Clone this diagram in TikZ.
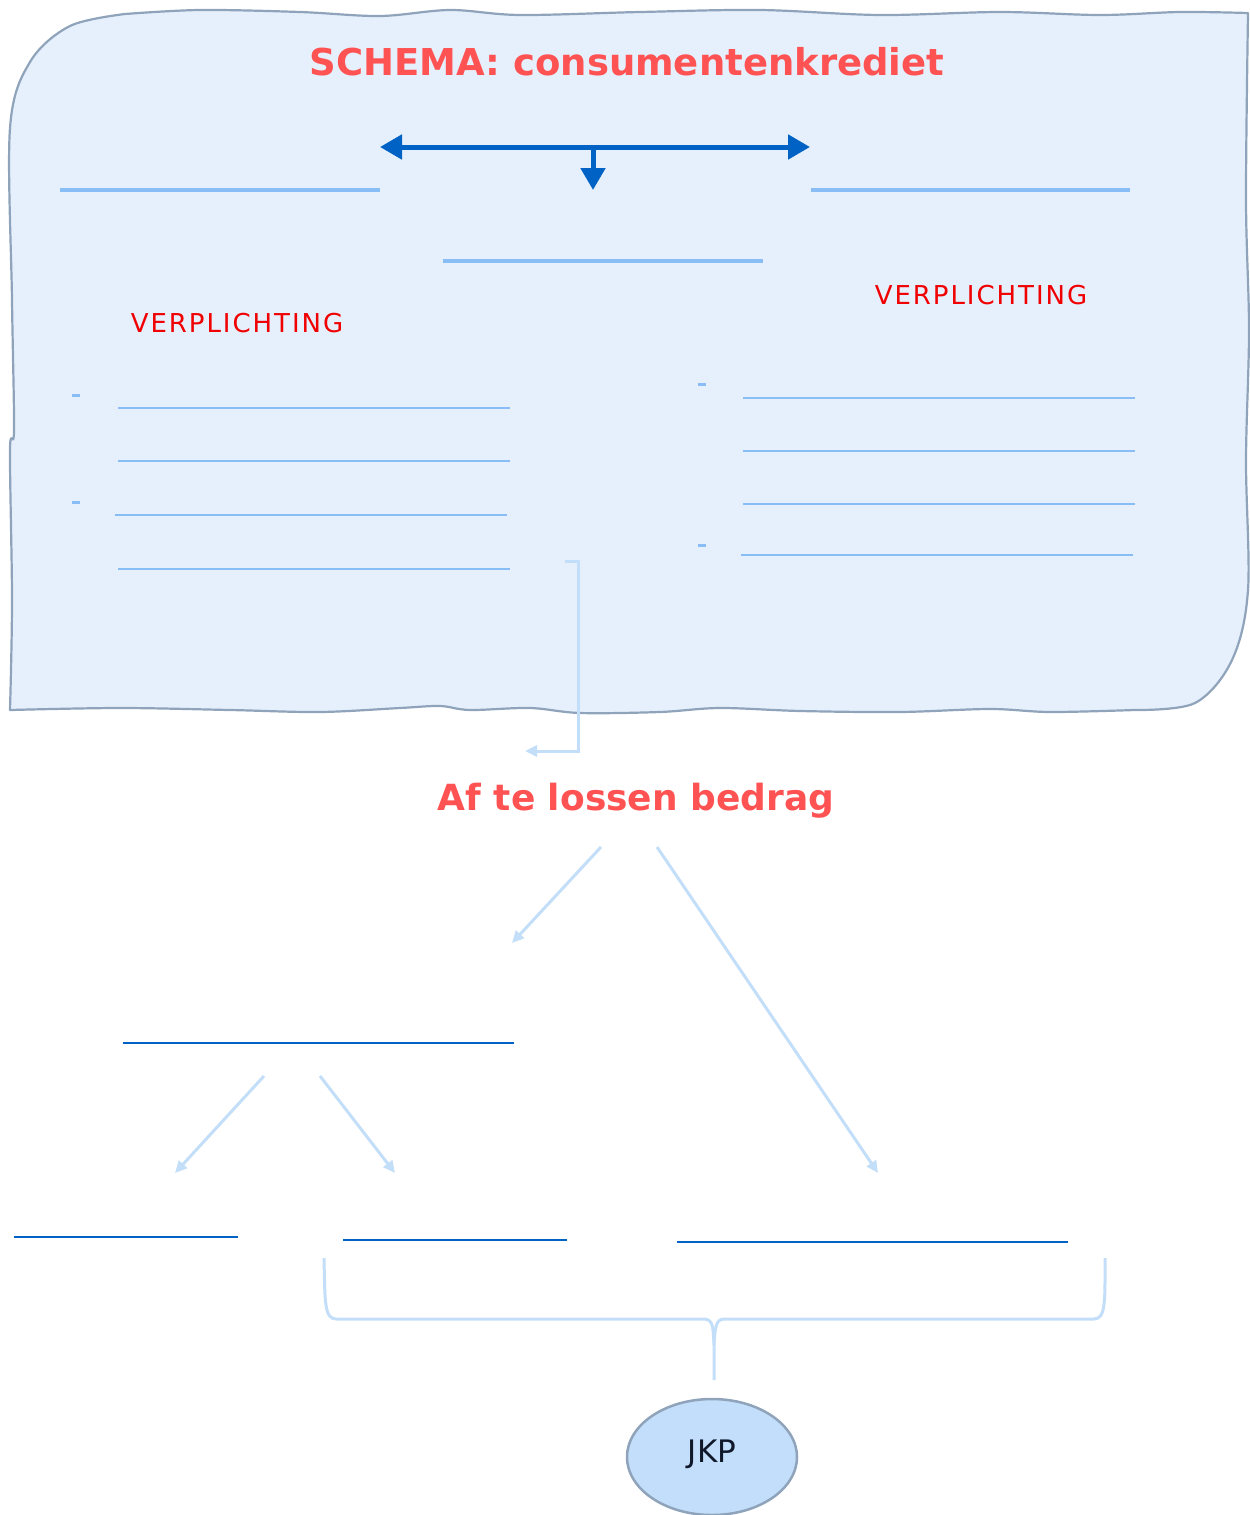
\documentclass[tikz,border=0pt]{standalone}
\usepackage{fontspec}
\setmainfont{DejaVu Sans}
\usetikzlibrary{arrows.meta,shapes.geometric}
\definecolor{boxfill}{HTML}{E6F0FD}
\definecolor{boxline}{HTML}{8FA3BA}
\definecolor{darkblue}{HTML}{0062C4}
\definecolor{midblue}{HTML}{88BEF5}
\definecolor{paleblue}{HTML}{C3DEF8}
\definecolor{titlered}{HTML}{FF5252}
\definecolor{vred}{HTML}{F00000}
\definecolor{ellfill}{HTML}{C2DEFA}
\definecolor{inktext}{HTML}{10182A}
\begin{document}
\begin{tikzpicture}[x=1pt,y=-1pt,
  titlestyle/.style={inner sep=0pt,anchor=base,text=titlered,font=\fontsize{37}{40}\selectfont\bfseries},
  afstyle/.style={inner sep=0pt,anchor=base,text=titlered,font=\fontsize{36}{40}\selectfont\bfseries},
  verpl/.style={inner sep=0pt,anchor=base,text=vred,font=\fontsize{26}{28}\selectfont\addfontfeatures{LetterSpace=7.5}},
  darkarrow/.style={draw=darkblue,line width=5pt,arrows={-Triangle[length=22pt,width=24pt]}},
  thickline/.style={draw=midblue,line width=4pt},
  thinline/.style={draw=midblue,line width=2pt},
  bulletdash/.style={draw=midblue,line width=3pt},
  paleconn/.style={draw=paleblue,line width=3pt,arrows={-Triangle[length=12pt,width=11pt]}},
  darkline/.style={draw=darkblue,line width=2pt},
  brace/.style={draw=paleblue,line width=3pt,line join=round},
  ellstyle/.style={ellipse,draw=boxline,line width=2.5pt,fill=ellfill,minimum width=170pt,minimum height=116pt,inner sep=0pt}
]
\useasboundingbox (0,0) rectangle (1250,1515);

% main hand-drawn panel
\path[fill=boxfill,draw=boxline,line width=2.2pt,line join=round]
  plot[smooth,tension=0.55] coordinates {(125,14) (200,10) (300,12) (380,16) (450,10) (520,15) (640,12) (760,10) (880,15) (1000,12) (1100,15) (1180,12) (1248,13)}
  -- plot[smooth,tension=0.55] coordinates {(1248,13) (1246,200) (1249,330) (1246,460) (1248,590) (1232,660) (1195,703) (1135,710)}
  -- plot[smooth,tension=0.55] coordinates {(1135,710) (1050,712) (990,709) (900,712) (800,711) (720,708) (660,712) (580,713) (530,708) (470,710) (440,706) (400,708) (320,712) (230,710) (120,708) (10,710)}
  -- plot[smooth,tension=0.55] coordinates {(10,710) (12,600) (10,450) (14,430) (12,300) (10,128) (30,62) (70,26) (125,14)}
  -- cycle;

% title
\node[titlestyle] (title) at (627,75) {SCHEMA: consumentenkrediet};

% dark blue arrows
\coordinate (hm) at (593,147);
\coordinate (hl) at (380,147);
\coordinate (hr) at (810,147);
\coordinate (hd) at (593,190);
\draw[darkarrow] (hm) -- (hl);
\draw[darkarrow] (hm) -- (hr);
\draw[darkarrow] (hm) -- (hd);

% thick placeholder lines
\draw[thickline] (60,190) -- (380,190);
\draw[thickline] (811,190) -- (1130,190);
\draw[thickline] (443,261) -- (763,261);

% labels
\node[verpl] (v1) at (237,332) {VERPLICHTING};
\node[verpl] (v2) at (981,304) {VERPLICHTING};

% left column
\draw[bulletdash] (72,395) -- (80,395);
\draw[thinline] (118,408) -- (510,408);
\draw[thinline] (118,461) -- (510,461);
\draw[bulletdash] (72,502) -- (80,502);
\draw[thinline] (115,515) -- (507,515);
\draw[thinline] (118,569) -- (510,569);

% right column
\draw[bulletdash] (698,384) -- (706,384);
\draw[thinline] (743,398) -- (1135,398);
\draw[thinline] (743,451) -- (1135,451);
\draw[thinline] (743,504) -- (1135,504);
\draw[bulletdash] (698,545) -- (706,545);
\draw[thinline] (741,555) -- (1133,555);

% connector from panel to amount
\coordinate (cs) at (565,561);
\coordinate (ce) at (525,751);
\draw[paleconn] (cs) -- (578,561) -- (578,751) -- (ce);

% amount
\node[afstyle] (af) at (636,810) {Af te lossen bedrag};

\coordinate (a1s) at (601,847);
\coordinate (a1e) at (512,943);
\coordinate (a2s) at (657,847);
\coordinate (a2e) at (878,1173);
\draw[paleconn] (a1s) -- (a1e);
\draw[paleconn] (a2s) -- (a2e);

\draw[darkline] (123,1043) -- (514,1043);

\coordinate (b1s) at (264,1076);
\coordinate (b1e) at (175,1173);
\coordinate (b2s) at (320,1076);
\coordinate (b2e) at (395,1173);
\draw[paleconn] (b1s) -- (b1e);
\draw[paleconn] (b2s) -- (b2e);

\draw[darkline] (14,1237) -- (238,1237);
\draw[darkline] (343,1240) -- (567,1240);
\draw[darkline] (677,1242) -- (1068,1242);

% brace
\coordinate (brl) at (324,1258);
\coordinate (brr) at (1105,1258);
\coordinate (brt) at (714,1380);
\draw[brace] (brl) .. controls (325,1300) and (324,1319) .. (336,1319) -- (704,1319)
  .. controls (714,1319) and (713,1330) .. (714,1345) -- (brt);
\draw[brace] (brr) .. controls (1105,1300) and (1106,1319) .. (1094,1319) -- (724,1319)
  .. controls (715,1319) and (715,1330) .. (714,1345);

% JKP
\node[ellstyle] (jkp) at (712,1457) {};
\node[inner sep=0pt,anchor=base,text=inktext,font=\fontsize{31}{34}\selectfont] (jkpt) at (712,1462) {JKP};
\end{tikzpicture}
\end{document}
